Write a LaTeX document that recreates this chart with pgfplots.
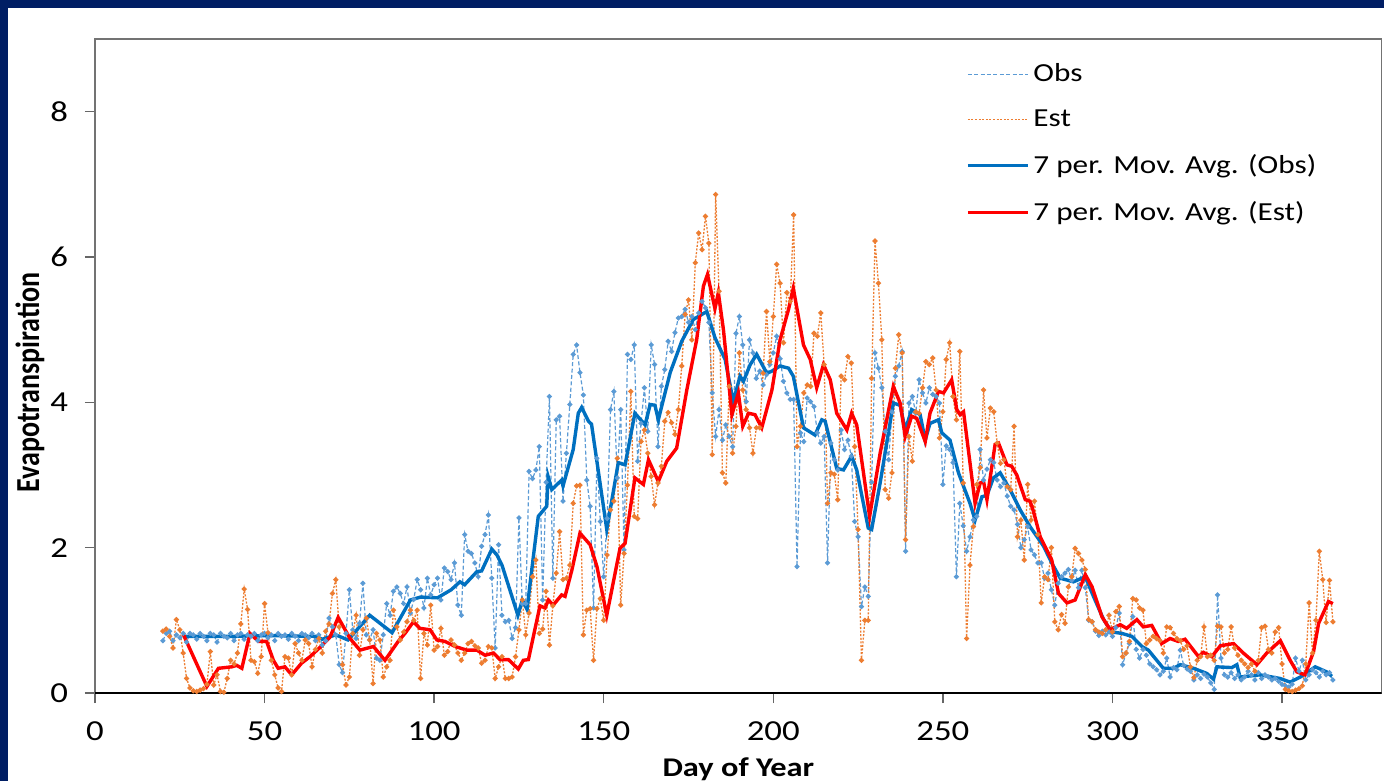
\documentclass[border=0pt]{standalone}
\usepackage{pgfplots}
\pgfplotsset{compat=1.18}
\usepackage{pgfplotstable}
\usepackage{fontspec}
\setmainfont{Carlito}[FakeStretch=1.2]
\newfontfamily\plainfont{Carlito}
\definecolor{navy}{RGB}{0,30,100}
\definecolor{obsraw}{RGB}{91,155,213}
\definecolor{estraw}{RGB}{237,125,49}
\definecolor{obsma}{RGB}{0,112,192}
\definecolor{estma}{RGB}{255,0,0}
\pgfplotstableread{
d o e
20 0.72 0.85
21 0.82 0.88
22 0.85 0.78
23 0.72 0.62
24 0.80 1.01
25 0.76 0.87
26 0.82 0.55
27 0.70 0.20
28 0.82 0.07
29 0.80 0.03
30 0.74 0.02
31 0.82 0.04
32 0.78 0.06
33 0.72 0.12
34 0.82 0.57
35 0.80 0.11
36 0.70 0.25
37 0.82 0.02
38 0.78 0.01
39 0.76 0.20
40 0.82 0.45
41 0.72 0.40
42 0.80 0.55
43 0.82 0.95
44 0.74 1.43
45 0.80 1.15
46 0.78 0.45
47 0.82 0.43
48 0.72 0.27
49 0.80 0.50
50 0.82 1.23
51 0.76 0.83
52 0.80 0.45
53 0.72 0.25
54 0.82 0.07
55 0.78 0.02
56 0.80 0.50
57 0.74 0.48
58 0.82 0.25
59 0.78 0.68
60 0.72 0.55
61 0.82 0.45
62 0.80 0.73
63 0.76 0.68
64 0.82 0.36
65 0.72 0.60
66 0.80 0.75
67 0.66 0.55
68 0.72 0.85
69 1.03 0.95
70 0.91 1.37
71 0.80 1.56
72 0.39 0.91
73 0.28 0.39
74 0.82 0.11
75 1.42 0.22
76 0.87 0.82
77 0.75 1.07
78 0.96 0.52
79 1.51 0.87
80 0.80 1.03
81 0.73 0.73
82 0.87 0.13
83 0.48 0.82
84 0.45 0.73
85 0.80 0.22
86 1.23 0.36
87 1.07 0.45
88 1.40 1.14
89 1.46 0.91
90 1.37 0.73
91 1.23 0.84
92 1.46 0.98
93 1.10 1.14
94 1.29 1.00
95 1.56 1.14
96 1.42 0.20
97 1.17 0.82
98 1.58 0.66
99 1.35 1.21
100 1.49 0.59
101 1.58 0.64
102 1.28 0.89
103 1.72 0.52
104 1.67 0.57
105 1.56 0.73
106 1.79 0.66
107 1.21 0.55
108 1.07 0.45
109 2.18 0.55
110 1.95 0.68
111 1.92 0.71
112 1.79 0.65
113 1.60 0.62
114 2.02 0.41
115 2.18 0.45
116 2.45 0.64
117 1.58 0.62
118 0.62 0.20
119 2.04 0.36
120 1.07 0.50
121 0.98 0.20
122 1.00 0.20
123 0.75 0.22
124 0.90 0.50
125 2.41 0.87
126 1.23 1.28
127 1.23 0.80
128 3.05 1.10
129 2.95 1.60
130 3.07 1.83
131 3.39 0.82
132 1.28 0.88
133 2.90 1.40
134 4.08 0.66
135 1.58 1.20
136 3.76 1.65
137 3.81 2.22
138 2.64 1.56
139 3.30 1.58
140 3.97 1.76
141 4.66 2.61
142 4.79 2.85
143 4.41 2.86
144 4.10 0.80
145 2.93 1.14
146 2.57 1.16
147 1.17 0.45
148 3.23 1.16
149 2.36 1.30
150 1.60 1.00
151 2.40 1.90
152 3.90 2.52
153 4.15 2.64
154 2.96 3.23
155 3.90 1.21
156 1.97 1.92
157 4.66 2.86
158 4.59 4.15
159 4.79 2.43
160 3.19 2.40
161 3.71 3.46
162 4.20 3.62
163 3.60 3.30
164 4.79 2.98
165 4.52 2.59
166 3.39 2.89
167 4.22 3.12
168 4.45 3.74
169 4.84 3.86
170 4.70 3.72
171 4.96 3.56
172 5.16 3.90
173 5.18 4.50
174 5.28 5.21
175 5.10 5.41
176 5.18 4.86
177 5.00 5.92
178 5.23 6.33
179 5.39 6.10
180 5.30 6.56
181 5.10 6.19
182 4.13 3.28
183 3.53 6.86
184 3.90 5.53
185 3.48 3.03
186 3.69 2.89
187 3.53 4.22
188 3.39 3.30
189 4.95 3.67
190 5.18 4.68
191 4.79 4.17
192 4.01 3.90
193 4.86 3.65
194 4.68 3.30
195 4.33 3.65
196 4.43 3.65
197 4.24 4.40
198 4.38 5.25
199 4.52 4.56
200 4.68 5.18
201 4.91 5.90
202 4.60 5.64
203 4.29 4.82
204 4.13 5.51
205 4.04 5.39
206 4.04 6.58
207 1.74 3.39
208 3.58 3.67
209 3.46 4.13
210 4.06 4.24
211 4.01 4.22
212 3.94 4.95
213 3.58 4.91
214 3.44 5.23
215 3.53 4.52
216 1.79 2.61
217 3.44 3.03
218 3.21 3.01
219 3.07 2.66
220 3.62 4.36
221 3.35 4.31
222 3.48 4.63
223 3.26 4.54
224 2.36 3.39
225 2.15 2.25
226 1.19 0.45
227 1.46 1.00
228 1.33 1.00
229 2.90 4.33
230 4.68 6.22
231 4.47 5.64
232 4.20 4.86
233 3.60 2.80
234 3.21 2.68
235 3.87 3.03
236 4.36 4.47
237 4.50 4.93
238 4.70 4.68
239 1.95 2.11
240 3.99 3.53
241 4.08 3.19
242 3.85 3.87
243 4.31 3.85
244 4.13 4.20
245 3.99 4.56
246 4.20 4.52
247 4.11 4.61
248 4.08 4.17
249 3.99 3.51
250 2.87 3.87
251 3.40 4.59
252 3.35 4.82
253 3.17 4.08
254 1.60 3.76
255 2.61 4.70
256 2.30 2.89
257 1.95 0.75
258 2.15 1.76
259 2.38 2.29
260 2.43 2.87
261 3.35 3.10
262 2.93 4.17
263 3.08 3.51
264 3.21 3.92
265 3.17 3.87
266 2.93 3.44
267 2.84 3.16
268 2.89 3.21
269 2.71 2.84
270 2.57 2.80
271 2.52 3.67
272 2.32 2.15
273 2.00 2.38
274 2.11 1.83
275 2.29 2.87
276 1.97 2.38
277 1.90 2.64
278 1.79 2.18
279 1.79 1.24
280 1.58 1.60
281 1.65 1.56
282 1.42 2.00
283 1.21 0.98
284 1.51 0.87
285 1.60 1.08
286 1.65 0.96
287 1.70 1.46
288 1.55 1.60
289 1.69 1.99
290 1.45 1.92
291 1.69 1.83
292 1.45 1.70
293 1.00 1.01
294 0.98 0.98
295 0.85 0.87
296 0.79 0.84
297 0.85 0.82
298 0.80 0.87
299 0.84 1.07
300 0.78 0.84
301 0.90 1.12
302 1.10 1.19
303 0.39 0.50
304 0.55 0.55
305 0.68 0.71
306 1.05 1.30
307 0.60 1.28
308 0.48 1.17
309 0.60 1.14
310 0.52 0.68
311 0.40 0.73
312 0.36 0.78
313 0.32 0.75
314 0.25 0.72
315 0.30 0.55
316 0.48 0.91
317 0.22 0.90
318 0.35 0.82
319 0.32 0.75
320 0.59 0.72
321 0.38 0.60
322 0.33 0.65
323 0.30 0.36
324 0.18 0.21
325 0.25 0.45
326 0.20 0.50
327 0.26 0.91
328 0.22 0.50
329 0.14 0.52
330 0.05 0.45
331 1.35 0.92
332 0.48 0.91
333 0.25 0.55
334 0.22 0.60
335 0.28 0.91
336 0.20 0.62
337 0.25 0.52
338 0.18 0.45
339 0.22 0.40
340 0.30 0.35
341 0.25 0.40
342 0.18 0.30
343 0.28 0.45
344 0.20 0.90
345 0.25 0.92
346 0.22 0.60
347 0.18 0.55
348 0.20 0.84
349 0.16 0.90
350 0.12 0.40
351 0.10 0.05
352 0.08 0.03
353 0.12 0.02
354 0.48 0.04
355 0.30 0.06
356 0.45 0.10
357 0.18 0.40
358 0.25 1.24
359 0.32 0.55
360 0.28 1.00
361 0.22 1.95
362 0.30 1.56
363 0.25 0.97
364 0.28 1.55
365 0.18 0.98
}\rawdata
\pgfplotstableread{
d v
26 0.78
40 0.78
52 0.79
65 0.78
67 0.74
71 0.80
74.6 0.73
81 1.07
87.6 0.83
93 1.28
96 1.32
101 1.31
105 1.42
107.6 1.53
109 1.49
112.6 1.67
114 1.68
117 1.98
118.5 1.90
120 1.76
124.7 1.07
126 1.28
127.4 1.15
128.3 1.51
130.7 2.43
133.2 2.57
133.6 2.98
134.7 2.80
137.6 2.93
138 2.85
141 3.35
142.5 3.85
143.5 3.93
145.5 3.74
146.4 3.70
150.9 2.25
154.3 3.17
156.3 3.14
159.2 3.85
162.2 3.69
163.7 3.97
165.1 3.96
166.1 3.76
169.6 4.41
173 4.84
176.4 5.14
180.4 5.25
182.8 4.89
185.8 4.59
188.2 4.01
190.2 4.36
191.2 4.29
193.2 4.52
195.1 4.66
198.1 4.40
199.6 4.43
202 4.50
204.5 4.47
205.9 4.36
208.9 3.65
212.3 3.55
214.3 3.76
215.3 3.74
218.7 3.09
220.7 3.07
223.1 3.26
224.6 3.07
228 2.27
229 2.25
231.5 2.89
235.4 3.99
237.4 3.96
238.9 3.62
240.8 3.90
243.3 3.83
244.8 3.48
246.2 3.71
248.7 3.76
249.7 3.58
252.1 3.48
254.6 3.03
258 2.61
259.5 2.38
261.5 2.70
263 2.72
264.9 2.96
266.9 3.03
269.8 2.80
272.8 2.52
275.7 2.29
279.7 2.02
282.1 1.79
284.6 1.58
288.5 1.53
292 1.60
294.4 1.33
297.4 1.01
299.8 0.84
302.8 0.82
305.7 0.78
308.7 0.64
310.6 0.59
315 0.34
318 0.34
320 0.39
323.9 0.34
327.8 0.27
329.8 0.19
330.8 0.36
335.2 0.35
336.7 0.39
337.6 0.22
343.5 0.25
349.4 0.20
352.4 0.15
355.4 0.22
359.8 0.36
363.2 0.29
364.7 0.23
}\maobs
\pgfplotstableread{
d v
26 0.81
33 0.09
36.4 0.34
40.3 0.36
41.8 0.38
43.3 0.34
45.7 0.82
48.2 0.71
50.6 0.71
52.6 0.45
54 0.34
56 0.36
58 0.25
60.9 0.41
63.4 0.50
66.4 0.63
69.3 0.77
71.7 1.04
75.2 0.75
78.1 0.59
82.1 0.64
85.5 0.45
89.4 0.71
91.4 0.82
93.9 0.98
95.8 0.89
98.8 0.87
100.8 0.73
103.2 0.71
106.2 0.64
109.6 0.59
112.6 0.59
115 0.52
117.5 0.55
119.4 0.46
121.9 0.46
124.8 0.33
126.3 0.45
127.8 0.46
131.2 1.20
132.7 1.17
133.7 1.28
135.1 1.21
137.6 1.35
138.6 1.33
140.6 1.69
143 2.20
146 2.04
148 1.74
150.9 1.07
154.8 1.99
156.3 2.06
159.2 2.96
161.7 2.87
163.2 3.21
166.1 2.91
168.6 3.19
171.5 3.37
174.5 4.17
177.4 4.86
179.4 5.60
180.6 5.76
182.8 5.29
183.8 5.51
185.3 5.00
187.8 3.83
189.7 4.13
191 3.67
192.7 3.85
194.6 3.83
196.6 3.65
199.6 4.17
202 4.86
204.5 5.28
205.9 5.57
208.9 4.79
210.9 4.59
212.8 4.20
214.8 4.52
216.8 4.31
218.7 3.85
221.7 3.62
223.1 3.85
224.6 3.69
228.4 2.43
231.5 3.30
235.4 4.22
237.4 3.99
238.9 3.53
240.8 3.81
242.3 3.78
244.8 3.46
246.2 3.85
248.7 4.15
250.2 4.13
252.6 4.31
254.1 3.90
255.1 3.83
256.1 3.87
259.5 2.61
261 2.89
262 2.91
263 2.66
265.4 3.42
266.4 3.44
268.9 3.14
270.3 3.12
271.8 3.00
274.3 2.66
275.7 2.64
276.7 2.50
278.7 2.15
282.1 1.83
284.1 1.37
286.6 1.24
289 1.28
292 1.63
294 1.46
296.9 1.05
299.3 0.87
302.3 0.94
304.2 0.89
307.2 1.01
309.1 0.91
311.6 0.93
314.5 0.68
317 0.75
319.4 0.71
321.4 0.74
325.4 0.50
326.8 0.56
329.3 0.50
331.8 0.65
335.7 0.68
338.6 0.55
342.6 0.39
345.5 0.55
349.5 0.72
352.4 0.45
354.4 0.29
356.8 0.25
359.3 0.57
360.8 0.96
363.7 1.26
365 1.23
}\maest
\begin{document}
\begin{tikzpicture}
\useasboundingbox (-47.5pt,-44pt) rectangle (644.5pt,346.5pt);
\fill[navy] (-47.5pt,-44pt) rectangle (644.5pt,346.5pt);
\fill[white] (-43.5pt,-44pt) rectangle (644.5pt,342.5pt);
\begin{axis}[
  at={(0pt,0pt)}, anchor=south west, scale only axis,
  width=643.35pt, height=327pt,
  xmin=0, xmax=379.4, ymin=0, ymax=9,
  xtick={0,50,100,150,200,250,300,350}, ytick={0,2,4,6,8},
  tick align=outside, major tick length=5pt,
  xtick pos=bottom, ytick pos=left,
  axis line style={draw=black!55, line width=0.7pt},
  tick style={draw=black!60, line width=0.7pt},
  tick label style={font=\fontsize{14.5}{17}\selectfont},
  xticklabel style={yshift=-6pt},
  yticklabel style={xshift=-5pt},
  /pgf/number format/assume math mode=true,
  xlabel={Day of Year}, ylabel={\scalebox{1}[1.2]{Evapotranspiration}},
  xlabel style={font=\fontsize{13.5}{16}\selectfont\bfseries, at={(axis description cs:0.5,-0.1162)}, anchor=center},
  ylabel style={font=\plainfont\fontsize{14}{16}\selectfont\bfseries, at={(axis description cs:-0.0505,0.4748)}, anchor=center},
  legend style={at={(0.672,0.975)}, anchor=north west, draw=none, fill=none,
    font=\fontsize{13}{15}\selectfont, row sep=8.5pt},
  legend cell align=left,
  legend image code/.code={\draw[mark repeat=2,mark phase=2,#1] (0pt,0pt) -- (15pt,0pt) -- (30pt,0pt);},
]
\addplot[obsraw, line width=0.6pt, dash pattern=on 2pt off 1.2pt, mark=*, mark size=0.95pt,
  mark options={solid, fill=obsraw, draw=obsraw}] table[x=d,y=o]{\rawdata};
\addlegendentry{Obs}
\addplot[estraw, line width=0.65pt, dash pattern=on 1pt off 0.8pt, mark=*, mark size=0.95pt,
  mark options={solid, fill=estraw, draw=estraw}] table[x=d,y=e]{\rawdata};
\addlegendentry{Est}
\addplot[obsma, line width=1.7pt, mark=none] table[x=d,y=v]{\maobs};
\addlegendentry{7 per. Mov. Avg. (Obs)}
\addplot[estma, line width=1.7pt, mark=none] table[x=d,y=v]{\maest};
\addlegendentry{7 per. Mov. Avg. (Est)}
\draw[black, line width=0.8pt] (axis cs:0,0) -- (axis cs:379.4,0);
\end{axis}
\end{tikzpicture}
\end{document}
